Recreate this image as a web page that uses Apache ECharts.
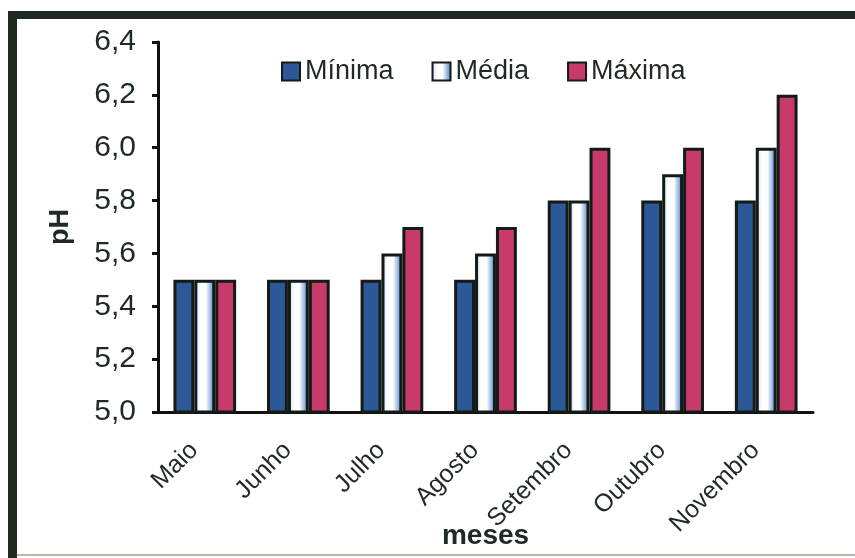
<!DOCTYPE html>
<html>
<head>
<meta charset="utf-8">
<title>pH mensal</title>
<script src="https://cdn.jsdelivr.net/npm/echarts@6/dist/echarts.min.js"></script>
<style>
  html, body { margin: 0; padding: 0; background: #ffffff; }
  #chart { width: 855px; height: 558px; }
</style>
</head>
<body>
<div id="chart"></div>
<script>
// Months on the category axis
const meses = ['Maio', 'Junho', 'Julho', 'Agosto', 'Setembro', 'Outubro', 'Novembro'];
// pH per month
const minima = [5.5, 5.5, 5.5, 5.5, 5.8, 5.8, 5.8];
const media  = [5.5, 5.5, 5.6, 5.6, 5.8, 5.9, 6.0];
const maxima = [5.5, 5.5, 5.7, 5.7, 6.0, 6.0, 6.2];
const seriesNames = ['Mínima', 'Média', 'Máxima'];

const ink = '#1e2a22';
const font = '"Liberation Sans", Arial, sans-serif';

const chart = echarts.init(document.getElementById('chart'), null, { renderer: 'canvas' });

const mediaFill = new echarts.graphic.LinearGradient(0, 0, 1, 0, [
  { offset: 0, color: '#c4d9f2' },
  { offset: 0.3, color: '#ffffff' },
  { offset: 0.55, color: '#ffffff' },
  { offset: 1, color: '#3d74c6' }
]);

const barBase = {
  type: 'bar',
  barGap: '0%',
  barCategoryGap: '33%'
};
const edge = { borderColor: '#141a16', borderWidth: 3 };

chart.setOption({
  animation: false,
  backgroundColor: '#ffffff',
  textStyle: { fontFamily: font, color: ink },
  legend: {
    left: 276,
    top: 53,
    icon: 'rect',
    itemWidth: 18,
    itemHeight: 18,
    itemGap: 38,
    textStyle: { fontSize: 27, color: ink, fontFamily: font },
    data: seriesNames
  },
  grid: { left: 158, right: 42, top: 42, bottom: 146, containLabel: false, outerBoundsMode: 'none' },
  xAxis: {
    type: 'category',
    data: meses,
    name: 'meses',
    nameLocation: 'middle',
    nameGap: 110,
    nameMoveOverlap: false,
    nameTextStyle: { fontSize: 28, fontWeight: 'bold', color: ink, fontFamily: font },
    axisLine: { lineStyle: { color: '#111', width: 3 } },
    axisTick: { length: 6, lineStyle: { color: '#111', width: 3 } },
    axisLabel: { rotate: 45, fontSize: 25, color: ink, margin: 24, padding: [0, 15, 0, 0], fontFamily: font }
  },
  yAxis: {
    type: 'value',
    min: 5.0,
    max: 6.4,
    interval: 0.2,
    name: 'pH',
    nameLocation: 'middle',
    nameGap: 84,
    nameRotate: 90,
    nameMoveOverlap: false,
    nameTextStyle: { fontSize: 27, fontWeight: 'bold', color: ink, fontFamily: font },
    axisLine: { show: true, lineStyle: { color: '#111', width: 3 } },
    axisTick: { show: true, length: 6, lineStyle: { color: '#111', width: 3 } },
    splitLine: { show: false },
    axisLabel: {
      fontSize: 30,
      color: ink,
      margin: 22,
      fontFamily: font,
      formatter: v => v.toFixed(1).replace('.', ',')
    }
  },
  series: [
    Object.assign({}, barBase, { name: seriesNames[0], data: minima, itemStyle: Object.assign({ color: '#2c5898' }, edge) }),
    Object.assign({}, barBase, { name: seriesNames[1], data: media, itemStyle: Object.assign({ color: mediaFill }, edge) }),
    Object.assign({}, barBase, { name: seriesNames[2], data: maxima, itemStyle: Object.assign({ color: '#c83a6c' }, edge) })
  ],
  graphic: [
    // outer frame: heavy top and left edges, thin bottom rule
    { type: 'rect', left: 8, top: 11, shape: { width: 847, height: 8 }, style: { fill: '#1f2b21' } },
    { type: 'rect', left: 8, top: 11, shape: { width: 9, height: 547 }, style: { fill: '#1f2b21' } },
    { type: 'rect', left: 17, top: 554, shape: { width: 838, height: 2 }, style: { fill: '#bdb6aa' } }
  ]
});
</script>
</body>
</html>
